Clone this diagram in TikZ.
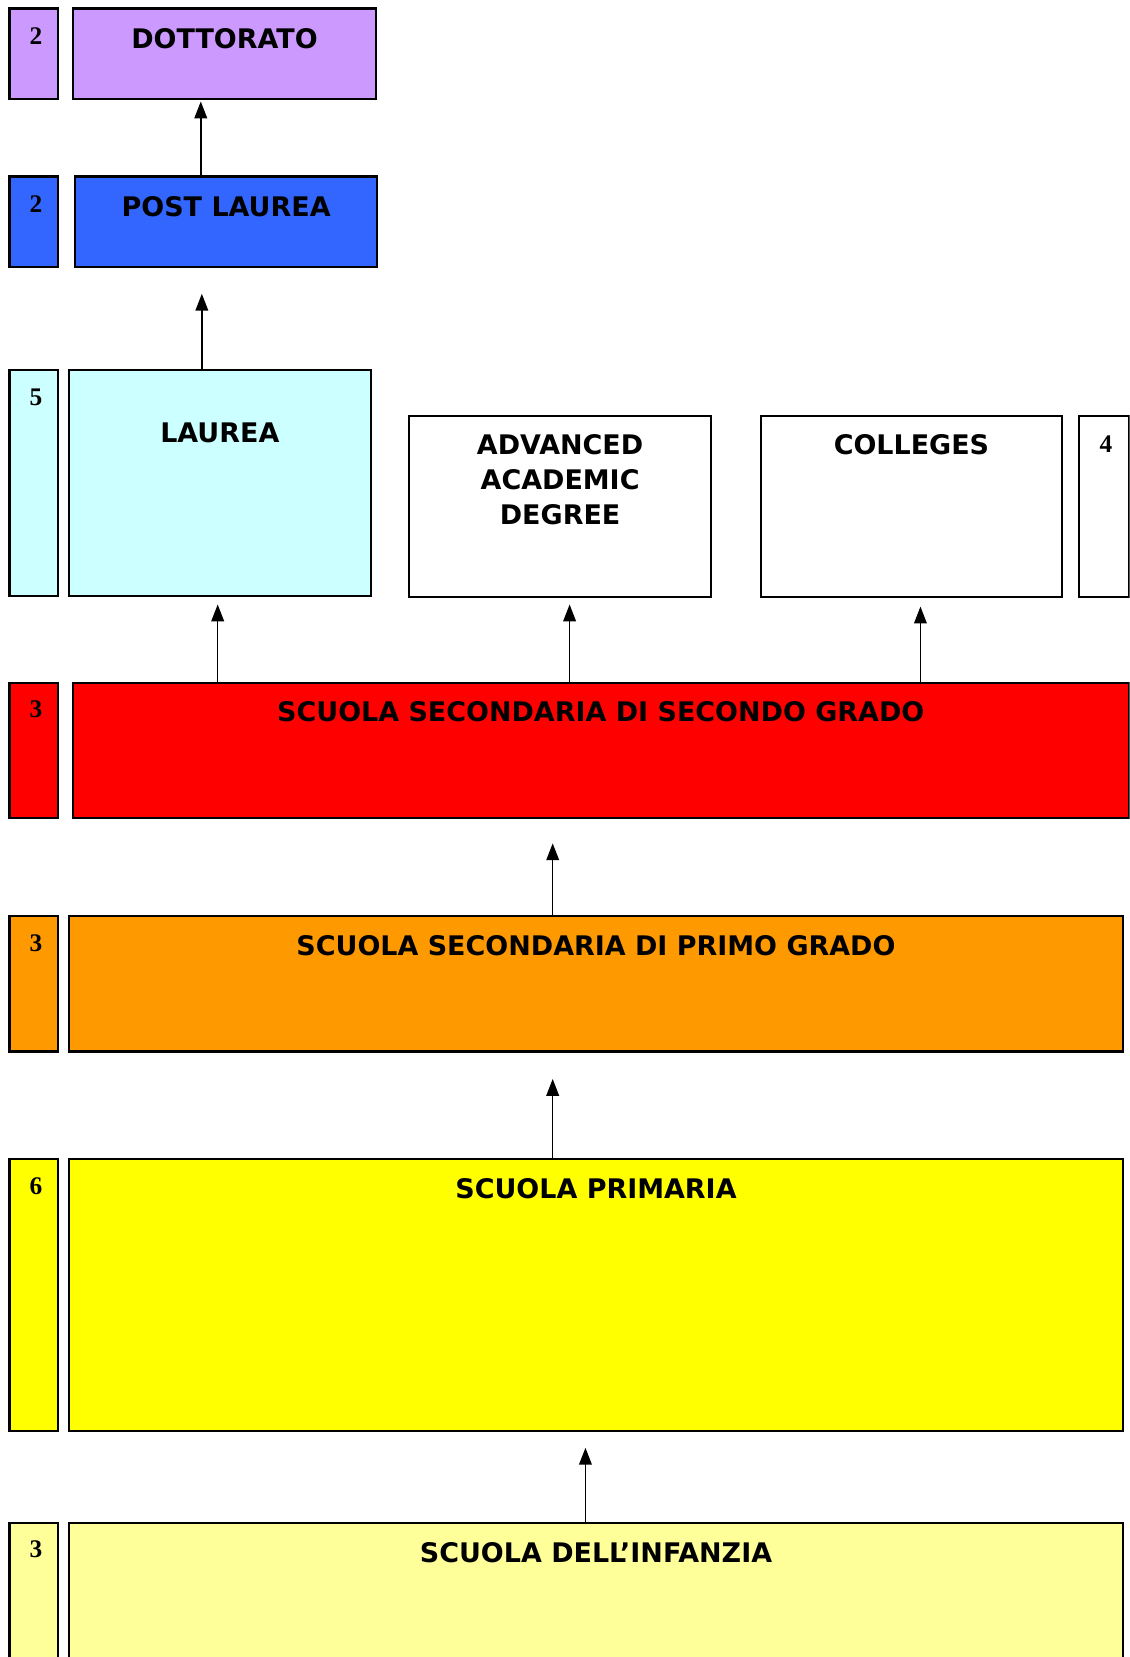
\documentclass[tikz,border=0pt]{standalone}
\usepackage{fontspec}
\newfontfamily\vfont{DejaVu Sans}
\newfontfamily\tfont{Liberation Serif}
\usetikzlibrary{arrows.meta}
\definecolor{cdot}{HTML}{CC99FF}
\definecolor{cpl}{HTML}{3366FF}
\definecolor{clau}{HTML}{CCFFFF}
\definecolor{cred}{HTML}{FF0000}
\definecolor{corg}{HTML}{FF9900}
\definecolor{cyel}{HTML}{FFFF00}
\definecolor{cly}{HTML}{FFFF99}
\tikzset{
  box/.style={draw=black, line width=2pt, rectangle, anchor=north west, inner sep=0pt, outer sep=0pt},
  numbox/.style={box, minimum width=46pt},
  title/.style={font=\vfont\bfseries\fontsize{25.5}{33}\selectfont, align=center, anchor=north, inner sep=0pt},
  num/.style={font=\tfont\bfseries\fontsize{24}{26}\selectfont, anchor=north, inner sep=0pt},
  arr/.style={line width=1.5pt, -{Triangle[width=12pt,length=16pt]}}
}
\begin{document}
\begin{tikzpicture}[x=1pt,y=-1pt]
\useasboundingbox (0,0) rectangle (1069,1568);
\clip (0,0) rectangle (1069,1568);
\fill[white] (0,0) rectangle (1069,1568);
% DOTTORATO
\node[numbox, fill=cdot, minimum height=86pt] (n1) at (9,8) {};
\node[box, fill=cdot, minimum width=287pt, minimum height=86pt] (dot) at (69,8) {};
\node[num] (n1t) at ([xshift=2pt,yshift=-18pt]n1.north) {2};
\node[title] (dott) at ([yshift=-19pt]dot.north) {DOTTORATO};
% POST LAUREA
\node[numbox, fill=cpl, minimum height=86pt] (n2) at (9,167) {};
\node[box, fill=cpl, minimum width=286pt, minimum height=86pt] (pl) at (71,167) {};
\node[num] (n2t) at ([xshift=2pt,yshift=-18pt]n2.north) {2};
\node[title] (plt) at ([yshift=-19pt]pl.north) {POST LAUREA};
% LAUREA
\node[numbox, fill=clau, minimum height=214pt] (n3) at (9,350) {};
\node[box, fill=clau, minimum width=286pt, minimum height=214pt] (lau) at (65,350) {};
\node[num] (n3t) at ([xshift=2pt,yshift=-18pt]n3.north) {5};
\node[title] (laut) at ([yshift=-50pt]lau.north) {LAUREA};
% ADVANCED
\node[box, fill=white, minimum width=286pt, minimum height=171pt] (adv) at (387,394) {};
\node[title] (advt) at ([yshift=-17pt]adv.north) {ADVANCED\\ACADEMIC\\DEGREE};
% COLLEGES
\node[box, fill=white, minimum width=285pt, minimum height=171pt] (col) at (720,394) {};
\node[title] (colt) at ([yshift=-17pt]col.north) {COLLEGES};
\node[box, fill=white, minimum width=47pt, minimum height=171pt] (n4) at (1021,394) {};
\node[num] (n4t) at ([xshift=2pt,yshift=-18pt]n4.north) {4};
% RED
\node[numbox, fill=cred, minimum height=128pt] (n5) at (9,646) {};
\node[box, fill=cred, minimum width=999pt, minimum height=128pt] (red) at (69,646) {};
\node[num] (n5t) at ([xshift=2pt,yshift=-17pt]n5.north) {3};
\node[title] (redt) at ([yshift=-18pt]red.north) {SCUOLA SECONDARIA DI SECONDO GRADO};
% ORANGE
\node[numbox, fill=corg, minimum height=128pt] (n6) at (9,867) {};
\node[box, fill=corg, minimum width=998pt, minimum height=128pt] (org) at (65,867) {};
\node[num] (n6t) at ([xshift=2pt,yshift=-17pt]n6.north) {3};
\node[title] (orgt) at ([yshift=-18pt]org.north) {SCUOLA SECONDARIA DI PRIMO GRADO};
% YELLOW
\node[numbox, fill=cyel, minimum height=257pt] (n7) at (9,1097) {};
\node[box, fill=cyel, minimum width=998pt, minimum height=257pt] (yel) at (65,1097) {};
\node[num] (n7t) at ([xshift=2pt,yshift=-17pt]n7.north) {6};
\node[title] (yelt) at ([yshift=-18pt]yel.north) {SCUOLA PRIMARIA};
% LIGHT YELLOW
\node[numbox, fill=cly, minimum height=160pt] (n8) at (9,1441) {};
\node[box, fill=cly, minimum width=998pt, minimum height=160pt] (ly) at (65,1441) {};
\node[num] (n8t) at ([xshift=2pt,yshift=-17pt]n8.north) {3};
\node[title] (lyt) at ([yshift=-18pt]ly.north) {SCUOLA DELL’INFANZIA};
% ARROWS
\coordinate (a1) at ([xshift=-24pt]pl.north);
\draw[arr, shorten >=2pt] (a1) -- (a1 |- dot.south);
\coordinate (a2) at ([xshift=-17pt]lau.north);
\draw[arr, shorten >=25pt] (a2) -- (a2 |- pl.south);
\coordinate (a3) at ([xshift=-362.5pt]red.north);
\draw[arr, shorten >=8pt] (a3) -- (a3 |- lau.south);
\coordinate (a4) at ([xshift=-29.5pt]red.north);
\draw[arr, shorten >=7pt] (a4) -- (a4 |- adv.south);
\coordinate (a5) at ([xshift=302.5pt]red.north);
\draw[arr, shorten >=9pt] (a5) -- (a5 |- col.south);
\coordinate (a6) at ([xshift=-41pt]org.north);
\draw[arr, shorten >=24pt] (a6) -- (a6 |- red.south);
\coordinate (a7) at ([xshift=-41pt]yel.north);
\draw[arr, shorten >=26pt] (a7) -- (a7 |- org.south);
\coordinate (a8) at ([xshift=-10pt]ly.north);
\draw[arr, shorten >=16pt] (a8) -- (a8 |- yel.south);
\end{tikzpicture}
\end{document}
